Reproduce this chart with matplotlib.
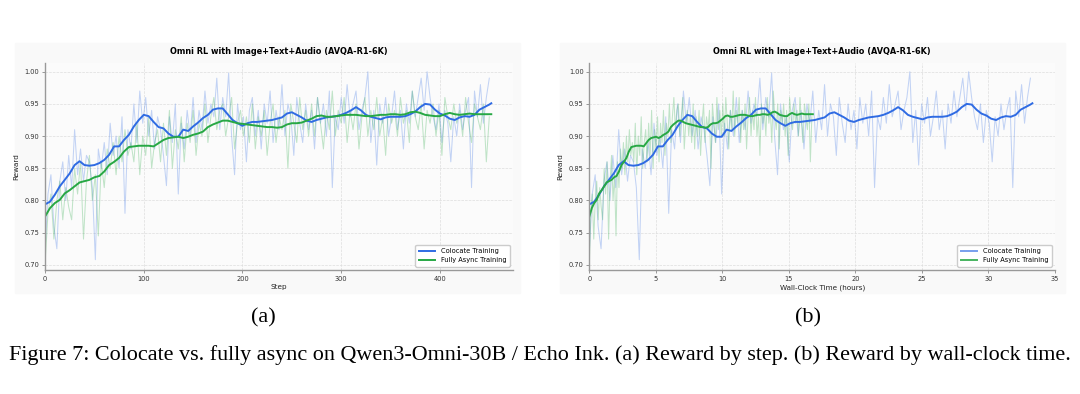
import numpy as np
import matplotlib
matplotlib.use("Agg")
import matplotlib.pyplot as plt
from matplotlib.patches import Rectangle
from matplotlib.lines import Line2D

# smoothed reward curves, read every 5 steps (last point is step 452)
smooth_steps = list(range(0, 451, 5)) + [452]
colocate_smooth = [
  0.794, 0.798, 0.809, 0.822, 0.832, 0.842, 0.855, 0.861, 0.855, 0.854,
  0.855, 0.858, 0.863, 0.871, 0.884, 0.884, 0.894, 0.902, 0.915, 0.925,
  0.933, 0.931, 0.922, 0.914, 0.912, 0.904, 0.899, 0.899, 0.910, 0.908,
  0.915, 0.921, 0.928, 0.933, 0.941, 0.943, 0.943, 0.934, 0.925, 0.920,
  0.916, 0.920, 0.922, 0.922, 0.923, 0.924, 0.925, 0.927, 0.929, 0.935,
  0.937, 0.933, 0.929, 0.924, 0.922, 0.925, 0.927, 0.929, 0.930, 0.931,
  0.933, 0.936, 0.940, 0.945, 0.940, 0.933, 0.930, 0.928, 0.926, 0.929,
  0.930, 0.930, 0.930, 0.931, 0.934, 0.938, 0.945, 0.950, 0.949, 0.941,
  0.935, 0.932, 0.927, 0.925, 0.929, 0.931, 0.930, 0.933, 0.941, 0.945,
  0.949, 0.951]
async_smooth = [
  0.775, 0.788, 0.796, 0.801, 0.811, 0.816, 0.822, 0.828, 0.830, 0.832,
  0.836, 0.838, 0.845, 0.855, 0.860, 0.866, 0.876, 0.883, 0.884, 0.885,
  0.885, 0.885, 0.884, 0.889, 0.894, 0.897, 0.898, 0.899, 0.897, 0.899,
  0.902, 0.904, 0.907, 0.914, 0.918, 0.921, 0.924, 0.924, 0.922, 0.920,
  0.919, 0.918, 0.917, 0.916, 0.915, 0.914, 0.914, 0.913, 0.914, 0.918,
  0.920, 0.920, 0.921, 0.924, 0.927, 0.931, 0.932, 0.930, 0.930, 0.931,
  0.932, 0.933, 0.933, 0.933, 0.932, 0.931, 0.931, 0.932, 0.933, 0.933,
  0.934, 0.934, 0.933, 0.934, 0.937, 0.938, 0.936, 0.933, 0.932, 0.931,
  0.931, 0.934, 0.936, 0.934, 0.933, 0.934, 0.935, 0.934, 0.934, 0.934,
  0.934, 0.934]

# raw per-step reward, read every 3 steps
raw_steps = list(range(0, 451, 3))
colocate_raw = [
  0.72, 0.81, 0.84, 0.76, 0.725, 0.83, 0.86, 0.80, 0.87, 0.82,
  0.91, 0.84, 0.88, 0.83, 0.87, 0.86, 0.82, 0.708, 0.88, 0.85,
  0.89, 0.84, 0.92, 0.87, 0.90, 0.85, 0.93, 0.78, 0.91, 0.88,
  0.95, 0.89, 0.97, 0.92, 0.96, 0.90, 0.94, 0.88, 0.93, 0.91,
  0.87, 0.823, 0.93, 0.89, 0.95, 0.81, 0.92, 0.88, 0.94, 0.90,
  0.96, 0.89, 0.94, 0.91, 0.97, 0.92, 0.95, 0.93, 0.99, 0.91,
  0.96, 0.93, 0.998, 0.90, 0.84, 0.95, 0.91, 0.93, 0.86, 0.94,
  0.96, 0.90, 0.94, 0.88, 0.95, 0.92, 0.97, 0.89, 0.94, 0.91,
  0.98, 0.90, 0.95, 0.93, 0.87, 0.96, 0.92, 0.89, 0.95, 0.91,
  0.94, 0.88, 0.96, 0.92, 0.95, 0.90, 0.97, 0.82, 0.93, 0.91,
  0.96, 0.92, 0.98, 0.93, 0.95, 0.97, 0.91, 0.94, 0.96, 1.00,
  0.89, 0.94, 0.855, 0.95, 0.92, 0.96, 0.90, 0.93, 0.97, 0.91,
  0.94, 0.88, 0.95, 0.92, 0.97, 0.93, 0.96, 0.99, 0.94, 1.00,
  0.96, 0.93, 0.91, 0.95, 0.89, 0.94, 0.92, 0.86, 0.93, 0.90,
  0.95, 0.91, 0.94, 0.96, 0.82, 0.97, 0.93, 0.98, 0.92, 0.96,
  0.99]
async_raw = [
  0.70, 0.78, 0.81, 0.74, 0.80, 0.83, 0.77, 0.82, 0.79, 0.77,
  0.85, 0.81, 0.86, 0.74, 0.83, 0.87, 0.80, 0.84, 0.745, 0.86,
  0.82, 0.88, 0.85, 0.89, 0.84, 0.90, 0.86, 0.91, 0.87, 0.89,
  0.86, 0.92, 0.84, 0.90, 0.87, 0.93, 0.85, 0.89, 0.91, 0.86,
  0.92, 0.87, 0.94, 0.85, 0.91, 0.88, 0.93, 0.86, 0.92, 0.89,
  0.94, 0.87, 0.92, 0.90, 0.95, 0.89, 0.93, 0.96, 0.91, 0.94,
  0.95, 0.90, 0.93, 0.96, 0.88, 0.92, 0.94, 0.90, 0.93, 0.89,
  0.95, 0.88, 0.93, 0.90, 0.94, 0.87, 0.92, 0.95, 0.89, 0.93,
  0.91, 0.94, 0.85, 0.95, 0.92, 0.89, 0.96, 0.91, 0.94, 0.90,
  0.95, 0.90, 0.96, 0.92, 0.88, 0.94, 0.91, 0.97, 0.90, 0.94,
  0.92, 0.96, 0.89, 0.94, 0.91, 0.95, 0.88, 0.93, 0.96, 0.90,
  0.94, 0.91, 0.96, 0.90, 0.93, 0.87, 0.95, 0.92, 0.94, 0.90,
  0.96, 0.92, 0.94, 0.89, 0.97, 0.93, 0.91, 0.95, 0.88, 0.94,
  0.92, 0.95, 0.90, 0.94, 0.87, 0.96, 0.93, 0.91, 0.95, 0.92,
  0.94, 0.90, 0.96, 0.92, 0.89, 0.95, 0.93, 0.91, 0.95, 0.86,
  0.93]

# total wall-clock hours for the 452 steps of each run
last_step = 452
colocate_hours = 33.3
async_hours = 16.8

title = "Omni RL with Image+Text+Audio (AVQA-R1-6K)"
caption = ("Figure 7: Colocate vs. fully async on Qwen3-Omni-30B / Echo Ink. "
           "(a) Reward by step. (b) Reward by wall-clock time.")

BLUE = "#2f6be3"
GREEN = "#27a844"

fig = plt.figure(figsize=(10.8, 3.94), dpi=100)
fig.patch.set_facecolor("white")

# light grey panel backgrounds, behind the axes
for x0 in (15 / 1080, 560 / 1080):
  fig.patches.append(Rectangle((x0, 1 - 293 / 394), 505 / 1080, 250 / 394,
                               transform=fig.transFigure, color="#f9f9f9",
                               zorder=-10))

def to_hours(steps, total):
  return np.array(steps) * (total / last_step)

def style(ax, xlabel):
  ax.set_facecolor("#fbfbfb")
  for s in ("top", "right"):
    ax.spines[s].set_visible(False)
  for s in ("left", "bottom"):
    ax.spines[s].set_color("#999999")
    ax.spines[s].set_linewidth(1.0)
  ax.grid(True, linestyle="--", linewidth=0.5, color="#dddddd")
  ax.set_axisbelow(True)
  ax.tick_params(labelsize=4.8, length=2, width=0.6, color="#888888",
                 labelcolor="#333333", pad=2)
  ax.set_ylim(0.692, 1.014)
  ax.set_yticks([0.70, 0.75, 0.80, 0.85, 0.90, 0.95, 1.00])
  ax.set_ylabel("Reward", fontsize=5.2, labelpad=4, color="#222222")
  ax.set_xlabel(xlabel, fontsize=5.2, labelpad=2, color="#222222")
  ax.set_title(title, fontsize=5.9, fontweight="bold", pad=6)

# (a) reward by step
ax1 = fig.add_axes([45 / 1080, 1 - 270 / 394, 468 / 1080, 207.3 / 394])
ax1.plot(raw_steps, colocate_raw, color=BLUE, alpha=0.28, lw=0.75)
ax1.plot(raw_steps, async_raw, color=GREEN, alpha=0.28, lw=0.75)
ax1.plot(smooth_steps, colocate_smooth, color=BLUE, lw=1.4, label="Colocate Training")
ax1.plot(smooth_steps, async_smooth, color=GREEN, lw=1.4, label="Fully Async Training")
ax1.set_xlim(0, 474)
ax1.set_xticks([0, 100, 200, 300, 400])
style(ax1, "Step")
ax1.legend(loc="lower right", fontsize=4.8, frameon=True, framealpha=1,
           edgecolor="#cccccc", handlelength=2.5, borderpad=0.5)

# (b) reward by wall-clock time
ax2 = fig.add_axes([589.3 / 1080, 1 - 270 / 394, 465.7 / 1080, 207.3 / 394])
ax2.plot(to_hours(raw_steps, colocate_hours), colocate_raw, color=BLUE, alpha=0.28, lw=0.75)
ax2.plot(to_hours(raw_steps, async_hours), async_raw, color=GREEN, alpha=0.28, lw=0.75)
ax2.plot(to_hours(smooth_steps, colocate_hours), colocate_smooth, color=BLUE, lw=1.4)
ax2.plot(to_hours(smooth_steps, async_hours), async_smooth, color=GREEN, lw=1.4)
ax2.set_xlim(0, 35)
ax2.set_xticks([0, 5, 10, 15, 20, 25, 30, 35])
style(ax2, "Wall-Clock Time (hours)")
handles = [Line2D([], [], color=BLUE, lw=1.4, alpha=0.65),
           Line2D([], [], color=GREEN, lw=1.4, alpha=0.85)]
ax2.legend(handles, ["Colocate Training", "Fully Async Training"],
           loc="lower right", fontsize=4.8, frameon=True, framealpha=1,
           edgecolor="#cccccc", handlelength=2.5, borderpad=0.5)

serif = ["Liberation Serif", "DejaVu Serif"]
fig.text(263 / 1080, 1 - 318 / 394, "(a)", ha="center", va="center",
         fontsize=16, family=serif)
fig.text(808 / 1080, 1 - 318 / 394, "(b)", ha="center", va="center",
         fontsize=16, family=serif)
fig.text(0.5, 1 - 355 / 394, caption, ha="center", va="center",
         fontsize=15.9, family=serif)

fig.savefig("out.png", dpi=100)
